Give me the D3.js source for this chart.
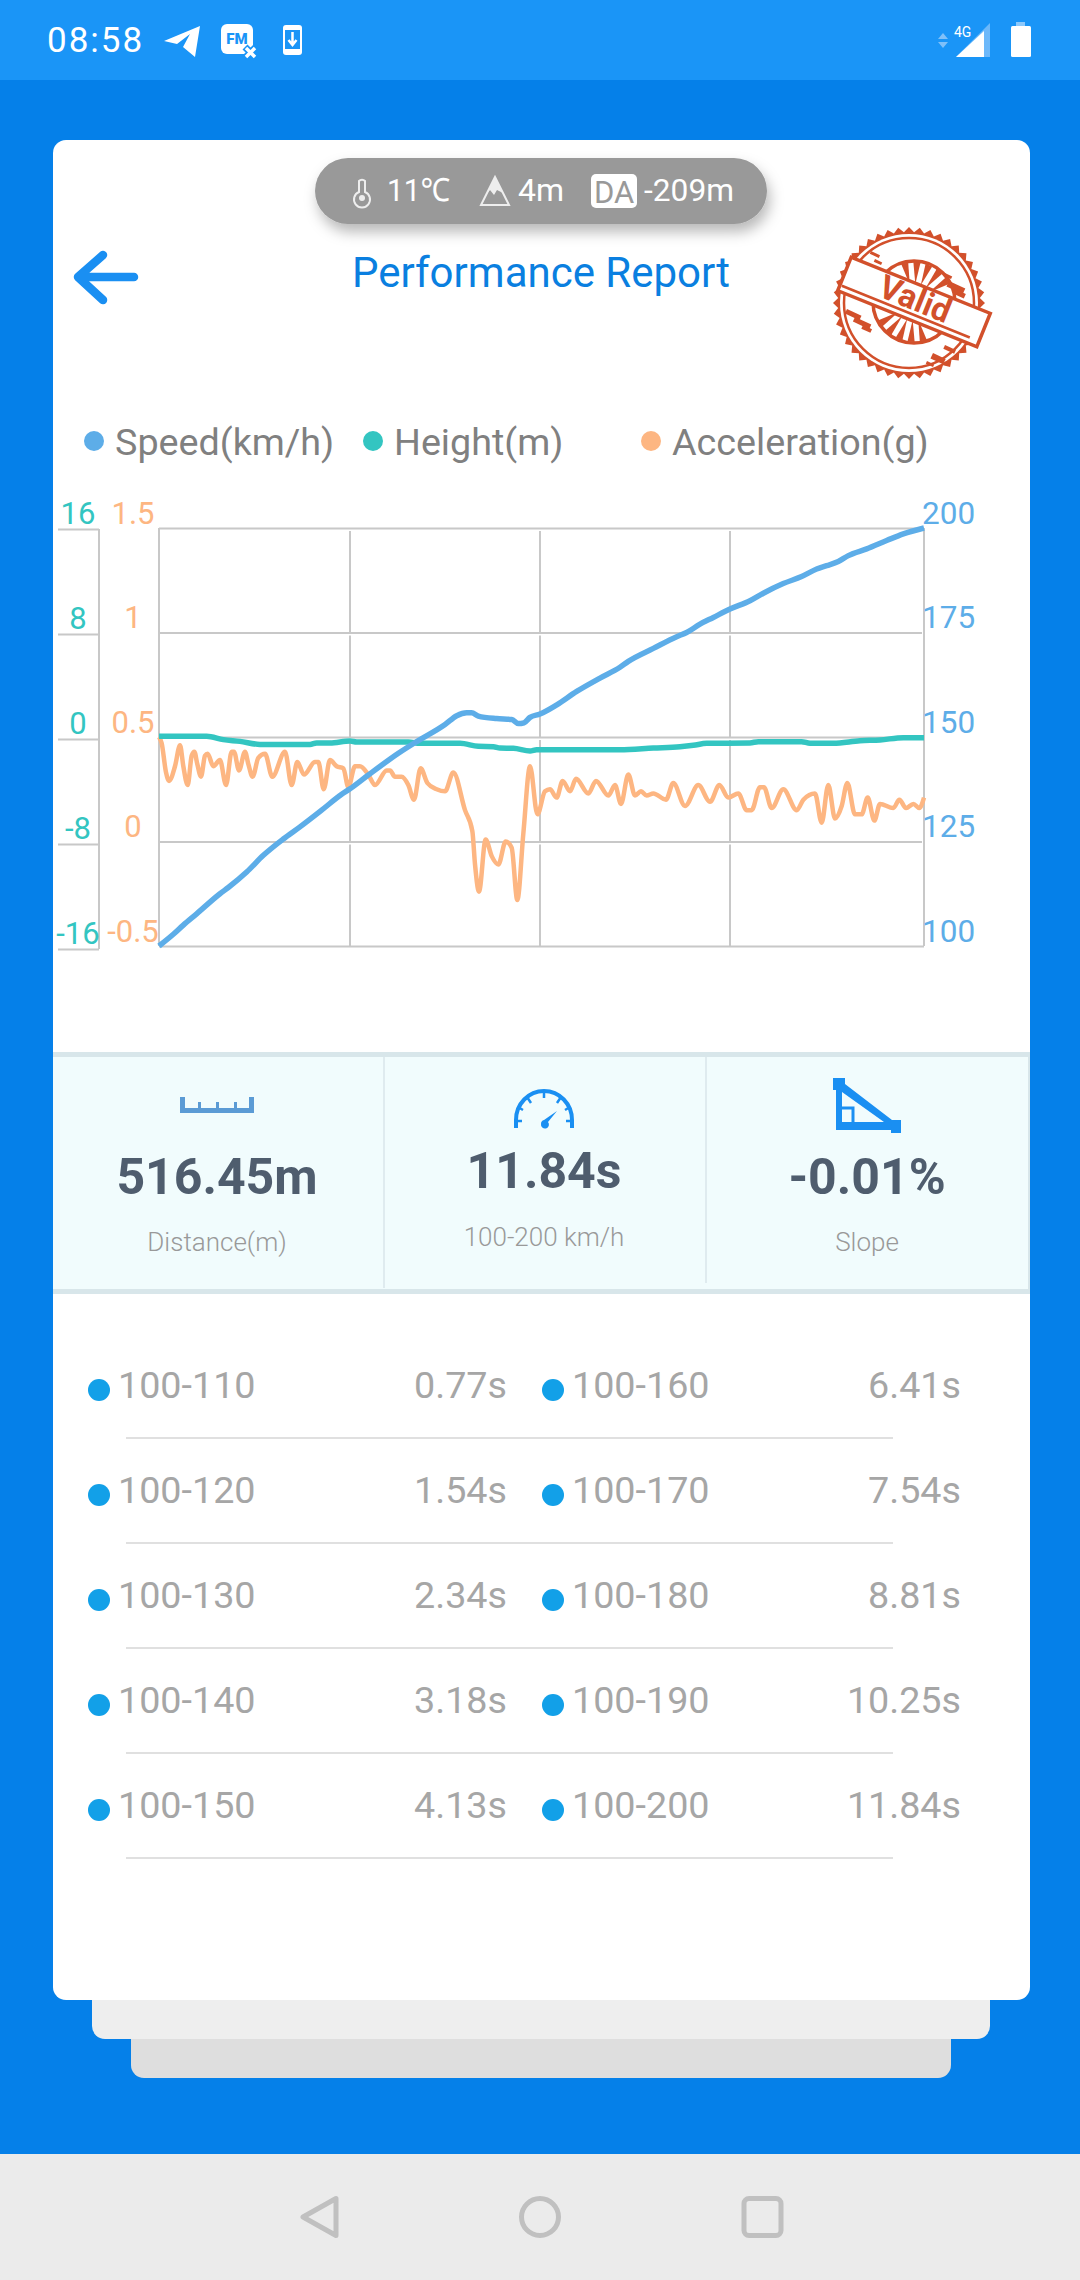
<!DOCTYPE html>
<html>
<head>
<meta charset="utf-8">
<title>Performance Report</title>
<script src="https://cdn.jsdelivr.net/npm/d3@7"></script>
<style>
  html, body { margin: 0; padding: 0; background: #0580e9; }
  svg { display: block; }
  text { font-family: Roboto, "Noto Sans", sans-serif; }
</style>
</head>
<body>
<div class="canvas"></div>
<script>
// chart data. x is percent of the run
const speedX = [0,1.87,3.18,4.92,7.97,9.06,11.46,13.64,16.25,18.43,21.26,23.88,24.97,27.36,31.29,33.68,37.39,38.92,40.22,40.87,41.74,44.14,46.1,46.97,47.71,48.5,49.8,52,54.6,57.65,60.26,61.35,64.62,67.67,68.97,70.72,72.46,74.64,77.25,79,81.6,84,85.97,87.28,88.8,90.11,92.51,95.12,97.3,100];
const speedValues = [100,102.8,105,107.7,112.5,114,117.7,121.7,125.6,128.5,132.5,136.3,137.6,140.9,146.1,148.9,153,155.1,155.8,155.8,155,154.4,154.2,153.2,153.4,154.7,155.5,157.7,160.9,164.1,166.7,168.1,171.2,174,175,177,178.6,180.6,182.6,184.4,186.7,188.4,190.2,191,192,193.4,195,197,198.6,200];

const heightX = [0,6.23,8.41,10.59,13.2,19.74,20.61,22.35,24.97,25.84,32.59,34.12,39.35,41.74,43.7,44.58,46.32,48.5,49.37,60.26,64.62,68.1,69.85,71.6,77.25,78.34,84,85.1,88.15,91.63,94.25,97.3,100];
const heightValues = [0.21,0.21,-0.05,-0.18,-0.41,-0.41,-0.3,-0.3,-0.15,-0.23,-0.23,-0.33,-0.33,-0.56,-0.59,-0.69,-0.71,-0.92,-0.82,-0.82,-0.69,-0.59,-0.48,-0.33,-0.3,-0.2,-0.2,-0.33,-0.33,-0.13,-0.07,0.1,0.1];

const accelX = [0,0.35,0.92,1.31,2.09,2.75,3.18,3.75,4.27,4.62,5.01,5.49,6.01,6.36,7.1,7.97,8.76,9.5,9.8,10.46,11.24,11.68,12.24,12.98,13.86,14.81,16.47,17.34,18.08,18.95,20.39,20.83,21.53,22.35,23.22,24.1,24.75,25.62,26.27,27.36,28.24,29.76,30.2,30.85,31.72,32.59,33.33,34.2,35.08,36.3,37.39,38.47,40,40.96,41.31,41.83,42.7,43.49,44.36,45.32,46.1,46.84,47.63,48.5,49.46,50.46,51.11,51.98,52.77,53.73,54.51,56.13,57.12,58.74,59.61,60.39,61.35,62.22,63.01,63.75,64.62,66.27,67.23,68.76,70.5,72.03,73.25,74.42,75.73,76.82,77.47,78.56,79.08,80.09,81.61,83.36,84.23,85.75,86.62,87.49,88.37,89.24,89.98,90.98,91.85,92.64,93.51,94.25,95.99,96.78,97.65,98.61,99.39,100];
const accelValues = [0.5,0.47,0.33,0.29,0.36,0.46,0.36,0.27,0.41,0.43,0.37,0.31,0.41,0.42,0.36,0.39,0.27,0.43,0.43,0.34,0.43,0.37,0.31,0.4,0.42,0.31,0.43,0.27,0.38,0.32,0.38,0.38,0.25,0.39,0.36,0.35,0.26,0.36,0.36,0.32,0.27,0.34,0.34,0.31,0.31,0.27,0.2,0.35,0.28,0.25,0.24,0.33,0.15,0.05,-0.11,-0.24,0.01,-0.07,-0.11,0,-0.03,-0.28,0.04,0.36,0.13,0.24,0.25,0.21,0.29,0.24,0.3,0.23,0.29,0.22,0.27,0.18,0.32,0.22,0.24,0.22,0.23,0.2,0.28,0.17,0.27,0.19,0.27,0.21,0.23,0.15,0.15,0.26,0.26,0.16,0.25,0.15,0.2,0.23,0.09,0.27,0.11,0.17,0.28,0.13,0.13,0.21,0.1,0.18,0.16,0.2,0.16,0.18,0.16,0.21];

const speedTicks = [100,125,150,175,200];
const heightTicks = [-16,-8,0,8,16];
const accelTicks = [-0.5,0,0.5,1,1.5];
const xTicks = [24.97,49.8,74.64];

const legendLabels = ['Speed(km/h)','Height(m)','Acceleration(g)'];
const statValues = ['516.45m','11.84s','-0.01%'];
const statCaptions = ['Distance(m)','100-200 km/h','Slope'];
const splitsLeft = ['100-110','100-120','100-130','100-140','100-150'];
const timesLeft = ['0.77s','1.54s','2.34s','3.18s','4.13s'];
const splitsRight = ['100-160','100-170','100-180','100-190','100-200'];
const timesRight = ['6.41s','7.54s','8.81s','10.25s','11.84s'];

const blue = '#5dade8', teal = '#33c5c1', orange = '#fdb682', grey = '#c8c8c8', appBlue = '#1a8ff2';

const svg = d3.select('.canvas')
  .append('svg')
    .attr('width', 1080)
    .attr('height', 2280)
    .attr('viewBox', '0 0 1080 2280');

const defs = svg.append('defs');
const shadow = defs.append('filter').attr('id','pillShadow')
  .attr('x','-10%').attr('y','-30%').attr('width','120%').attr('height','170%');
shadow.append('feDropShadow').attr('dx',3).attr('dy',8).attr('stdDeviation',7)
  .attr('flood-color','#000').attr('flood-opacity',0.28);

//page background and status bar
svg.append('rect').attr('width',1080).attr('height',2280).attr('fill','#0580e9');
svg.append('rect').attr('width',1080).attr('height',80).attr('fill','#1a95f7');
svg.append('text').attr('x',47).attr('y',52).attr('font-size',35).attr('fill','#fff')
  .attr('letter-spacing',2).text('08:58');
svg.append('path').attr('fill','#fff')
  .attr('d','M164 41 L200 26 L195 57 L183 47 L190 34 L177 44 Z');
svg.append('rect').attr('x',221).attr('y',24).attr('width',32).attr('height',30).attr('rx',6).attr('fill','#fff');
svg.append('text').attr('x',237).attr('y',44).attr('text-anchor','middle').attr('font-size',15)
  .attr('font-weight',900).attr('fill','#1a95f7').text('FM');
svg.append('path').attr('stroke','#1a95f7').attr('stroke-width',7).attr('d','M245 47 L256 58 M256 47 L245 58');
svg.append('path').attr('stroke','#fff').attr('stroke-width',3.5).attr('d','M246 48 L255 57 M255 48 L246 57');
svg.append('rect').attr('x',283).attr('y',25).attr('width',19).attr('height',30).attr('rx',3).attr('fill','#fff');
svg.append('rect').attr('x',285).attr('y',30).attr('width',15).attr('height',19).attr('fill','#1a95f7');
svg.append('path').attr('fill','none').attr('stroke','#fff').attr('stroke-width',2.5)
  .attr('d','M292.5 32 V44 M288.5 40 L292.5 45 L296.5 40');
//signal, arrows and battery
svg.append('path').attr('fill','#7fc0f9').attr('d','M943 33 L948 39 H938 Z M943 48 L948 42 H938 Z');
svg.append('path').attr('fill','#6cb8fa').attr('d','M990 23 V57 H956 Z');
svg.append('path').attr('fill','#fff').attr('d','M984 31 V57 H956 Z');
svg.append('text').attr('x',954).attr('y',37).attr('font-size',14).attr('fill','#fff').text('4G');
svg.append('rect').attr('x',1016).attr('y',22).attr('width',9).attr('height',5).attr('fill','#8cc8fb');
svg.append('rect').attr('x',1011).attr('y',26).attr('width',20).attr('height',31).attr('rx',1.5).attr('fill','#fff');

//stacked cards
[[131,951,2078,'#dedede'],[92,990,2039,'#eeeeee'],[53,1030,2000,'#ffffff']].forEach(c => {
  svg.append('rect').attr('x',c[0]).attr('y',140).attr('width',c[1]-c[0]).attr('height',c[2]-140)
    .attr('rx',13).attr('fill',c[3]);
});

//conditions pill
svg.append('rect').attr('x',315).attr('y',158).attr('width',452).attr('height',66).attr('rx',33)
  .attr('fill','#999').attr('filter','url(#pillShadow)');
const pill = svg.append('g').attr('font-size',32).attr('fill','#fff');
pill.append('text').attr('x',387).attr('y',201).attr('textLength',63).attr('lengthAdjust','spacingAndGlyphs').text('11℃');
pill.append('text').attr('x',518).attr('y',201).text('4m');
pill.append('text').attr('x',644).attr('y',201).attr('textLength',90).attr('lengthAdjust','spacingAndGlyphs').text('-209m');
svg.append('path').attr('fill','none').attr('stroke','#eee').attr('stroke-width',2)
  .attr('d','M359 181 a4 4 0 0 1 6 0 V192 a8 8 0 1 1 -6 0 Z');
svg.append('circle').attr('cx',362).attr('cy',198).attr('r',3).attr('fill','#eee');
svg.append('path').attr('fill','none').attr('stroke','#eee').attr('stroke-width',2)
  .attr('d','M495 177 L509 205 H481 Z');
svg.append('path').attr('fill','#eee').attr('d','M495 177 L503 193 L497 190 L494 195 L490 190 L487 193 Z');
svg.append('rect').attr('x',591).attr('y',174).attr('width',46).attr('height',34).attr('rx',5).attr('fill','#fff');
svg.append('text').attr('x',614).attr('y',203).attr('text-anchor','middle').attr('font-size',31)
  .attr('fill','#999').text('DA');

//header
svg.append('path').attr('fill','none').attr('stroke',appBlue).attr('stroke-width',8.5)
  .attr('stroke-linecap','round').attr('stroke-linejoin','round')
  .attr('d','M134 277 H79 M103 255 L78 277 L103 300');
svg.append('text').attr('x',541).attr('y',287).attr('text-anchor','middle').attr('font-size',42)
  .attr('fill','#0a7fe0').text('Performance Report');

//validity stamp
const stampColor = '#d2502b';
const stamp = svg.append('g').attr('transform','translate(909,303)');
const gearPoints = d3.range(88).map(i => [i * Math.PI / 44, i % 2 ? 71 : 76]);
stamp.append('path').attr('fill',stampColor).attr('d', d3.lineRadial().curve(d3.curveLinearClosed)(gearPoints));
stamp.append('circle').attr('r',69).attr('fill','#fff');
stamp.append('circle').attr('r',65).attr('fill','none').attr('stroke',stampColor).attr('stroke-width',2.5);
stamp.append('circle').attr('cx',5).attr('cy',-1).attr('r',41).attr('fill','none').attr('stroke',stampColor).attr('stroke-width',3.5);
//rays sit above and below the banner, which hides their inner ends
const rayAngles = [-0.62,-0.31,0,0.31,0.62];
[-68,112].forEach(dir => {
  rayAngles.forEach(offset => {
    const a = dir * Math.PI / 180 + offset;
    const spread = 0.09;
    stamp.append('path').attr('fill',stampColor).attr('transform','translate(5,-1)')
      .attr('d',`M${18*Math.cos(a)} ${18*Math.sin(a)} L${40*Math.cos(a-spread)} ${40*Math.sin(a-spread)} L${40*Math.cos(a+spread)} ${40*Math.sin(a+spread)} Z`);
  });
});
const grunge = [[-52,-42,16,5],[-46,-36,10,4],[-34,-44,8,3],[40,-22,18,6],[46,-14,12,5],[36,-30,8,3],[-62,6,16,5],[-54,14,18,5],[-46,22,10,4],[24,50,14,6],[36,42,12,4],[18,58,8,3],[-38,-52,10,3]];
grunge.forEach(g => {
  stamp.append('rect').attr('x',g[0]).attr('y',g[1]).attr('width',g[2]).attr('height',g[3])
    .attr('transform',`rotate(25 ${g[0]} ${g[1]})`).attr('fill',stampColor);
});
const banner = stamp.append('g').attr('transform','translate(5,-1) rotate(22)');
banner.append('rect').attr('x',-75).attr('y',-18).attr('width',150).attr('height',36)
  .attr('fill','#fff').attr('stroke',stampColor).attr('stroke-width',3.5);
banner.append('line').attr('x1',-73).attr('x2',65).attr('y1',12).attr('y2',12)
  .attr('stroke',stampColor).attr('stroke-width',2.5);
banner.append('text').attr('y',8).attr('text-anchor','middle')
  .attr('font-family','"Liberation Sans", Arial, sans-serif').attr('font-size',33).attr('font-weight',700)
  .attr('fill',stampColor).text('Valid');

//legend
const legendX = [94,373,651];
const legendColors = [blue,teal,orange];
legendLabels.forEach((label,i) => {
  svg.append('circle').attr('cx',legendX[i]).attr('cy',441).attr('r',10).attr('fill',legendColors[i]);
  svg.append('text').attr('x',legendX[i]+21).attr('y',455).attr('font-size',37.7)
    .attr('fill','#808080').text(label);
});

//scales
const x = d3.scaleLinear().domain([0,100]).range([159,924]);
const speedY = d3.scaleLinear().domain([100,200]).range([946,528]);
const accelY = d3.scaleLinear().domain([-0.5,1.5]).range([946,528]);
const heightY = d3.scaleLinear().domain([-16,16]).range([949,529]);

//grid. Vertical rules stop just under each horizontal one
const grid = svg.append('g').attr('stroke',grey).attr('stroke-width',2);
xTicks.forEach(t => {
  speedTicks.slice(1).forEach((s,i) => {
    grid.append('line').attr('x1',x(t)).attr('x2',x(t))
      .attr('y1',speedY(s)+3).attr('y2',speedY(speedTicks[i]));
  });
});
const gridY = d3.axisLeft(speedY).tickValues(speedTicks).tickSize(-765).tickFormat('');
const gridGroup = svg.append('g').attr('transform','translate(159,0)').call(gridY)
  .call(g => g.select('.domain').remove());
gridGroup.selectAll('line').attr('stroke',grey).attr('stroke-width',2);
gridGroup.selectAll('.tick line').filter(d => d > 100 && d < 200).attr('x2',763);
svg.append('g').attr('stroke',grey).attr('stroke-width',2).call(g => {
  g.append('line').attr('x1',x(0)).attr('x2',x(0)).attr('y1',speedY(200)).attr('y2',speedY(100));
  g.append('line').attr('x1',x(100)).attr('x2',x(100)).attr('y1',speedY(200)).attr('y2',speedY(100));
});

//axes
const heightAxis = d3.axisLeft(heightY).tickValues(heightTicks).tickSize(41).tickFormat(d => d);
svg.append('g').attr('transform','translate(99,0)').call(heightAxis)
  .call(g => g.select('.domain').attr('stroke',grey).attr('stroke-width',2).attr('d','M0 529 V949'))
  .call(g => g.selectAll('line').attr('stroke',grey).attr('stroke-width',2))
  .call(g => g.selectAll('text').attr('x',-21).attr('y',-6).attr('dy',0)
    .attr('text-anchor','middle').attr('font-family','Roboto').attr('font-size',31).attr('fill',teal));

const accelAxis = d3.axisLeft(accelY).tickValues(accelTicks).tickSize(0).tickFormat(d => d);
svg.append('g').attr('transform','translate(133,0)').call(accelAxis)
  .call(g => g.select('.domain').remove())
  .call(g => g.selectAll('text').attr('x',0).attr('y',-5).attr('dy',0)
    .attr('text-anchor','middle').attr('font-family','Roboto').attr('font-size',31).attr('fill',orange));

const speedAxis = d3.axisRight(speedY).tickValues(speedTicks).tickSize(0);
svg.append('g').attr('transform','translate(922,0)').call(speedAxis)
  .call(g => g.select('.domain').remove())
  .call(g => g.selectAll('text').attr('x',0).attr('y',-5).attr('dy',0)
    .attr('text-anchor','start').attr('font-family','Roboto').attr('font-size',31.5).attr('fill',blue));

//series
const drawLine = (xs, ys, yScale, color, width) => {
  const line = d3.line().x(d => x(d[0])).y(d => yScale(d[1])).curve(d3.curveMonotoneX);
  svg.append('path').datum(d3.zip(xs, ys))
    .attr('fill','none').attr('stroke',color).attr('stroke-width',width)
    .attr('stroke-linejoin','round').attr('d',line);
};
drawLine(accelX, accelValues, accelY, orange, 4.5);
drawLine(heightX, heightValues, heightY, teal, 5.5);
drawLine(speedX, speedValues, speedY, blue, 5.5);

//stats panel
svg.append('rect').attr('x',53).attr('y',1052).attr('width',977).attr('height',242).attr('fill','#d8e6ea');
svg.append('rect').attr('x',53).attr('y',1057).attr('width',975).attr('height',232).attr('fill','#f1fcfd');
svg.append('line').attr('x1',384).attr('x2',384).attr('y1',1057).attr('y2',1288).attr('stroke','#d8e6ea').attr('stroke-width',1.5);
svg.append('line').attr('x1',706).attr('x2',706).attr('y1',1057).attr('y2',1283).attr('stroke','#d8e6ea').attr('stroke-width',1.5);
const statX = [217,544,867];
const statBase = [1194,1188,1194];
const captionBase = [1251,1246,1251];
statValues.forEach((v,i) => {
  svg.append('text').attr('x',statX[i]).attr('y',statBase[i]).attr('text-anchor','middle')
    .attr('font-size',50).attr('font-weight',700).attr('fill','#4f5d6e').text(v);
  svg.append('text').attr('x',statX[i]).attr('y',captionBase[i]).attr('text-anchor','middle')
    .attr('font-size',26).attr('font-weight',300).attr('fill','#999').text(statCaptions[i]);
});
//ruler icon
svg.append('path').attr('fill','#5b9bd5')
  .attr('d','M180 1097 H185 V1108 H198 V1102 H201 V1108 H216 V1102 H219 V1108 H234 V1102 H237 V1108 H249 V1097 H254 V1113 H180 Z');
//gauge icon
svg.append('path').attr('fill','none').attr('stroke',appBlue).attr('stroke-width',4)
  .attr('d','M516 1128 V1120 A28 29 0 0 1 572 1120 V1128');
svg.append('path').attr('fill','none').attr('stroke',appBlue).attr('stroke-width',2.5)
  .attr('d','M544 1091 V1098 M527 1097 L531 1103 M561 1097 L557 1103 M518 1107 L523 1110 M570 1107 L565 1110 M516 1121 H522 M572 1121 H566');
svg.append('path').attr('fill',appBlue).attr('d','M557 1111 L548 1122 A4 4 0 1 1 541 1124 A4 4 0 0 1 544 1120 Z');
//slope icon
svg.append('path').attr('fill',appBlue).attr('fill-rule','evenodd')
  .attr('d','M833 1078 H845 V1084 L892 1120 H901 V1133 H891 V1130 H836 V1090 H833 Z M842 1092 V1122 H884 Z');
svg.append('path').attr('fill','none').attr('stroke',appBlue).attr('stroke-width',3)
  .attr('d','M840 1108 H853 V1122');

//split times table
const rowY = d3.scalePoint().domain(splitsLeft.map((d,i) => i)).range([1398,1818]);
const drawSplits = (labels, times, dotX, labelX, timeX) => {
  labels.forEach((label,i) => {
    svg.append('circle').attr('cx',dotX).attr('cy',rowY(i)-8).attr('r',11).attr('fill','#12a0e8');
    svg.append('text').attr('x',labelX).attr('y',rowY(i)).attr('font-size',37.7).attr('fill','#a6a6a6').text(label);
    svg.append('text').attr('x',timeX).attr('y',rowY(i)).attr('text-anchor','end').attr('font-size',37.7)
      .attr('fill','#a6a6a6').text(times[i]);
  });
};
drawSplits(splitsLeft, timesLeft, 99, 118, 507);
drawSplits(splitsRight, timesRight, 553, 572, 961);
splitsLeft.forEach((d,i) => {
  svg.append('line').attr('x1',126).attr('x2',893).attr('y1',rowY(i)+40).attr('y2',rowY(i)+40)
    .attr('stroke','#e0e0e0').attr('stroke-width',2);
});

//navigation bar
svg.append('rect').attr('y',2154).attr('width',1080).attr('height',126).attr('fill','#ebebeb');
const nav = svg.append('g').attr('fill','none').attr('stroke','#c0c0c0').attr('stroke-width',5).attr('stroke-linejoin','round');
nav.append('path').attr('d','M336 2198.5 V2235.5 L303 2217 Z');
nav.append('circle').attr('cx',540).attr('cy',2217).attr('r',18.5);
nav.append('rect').attr('x',744).attr('y',2198.5).attr('width',37).attr('height',37).attr('rx',5);
</script>
</body>
</html>
